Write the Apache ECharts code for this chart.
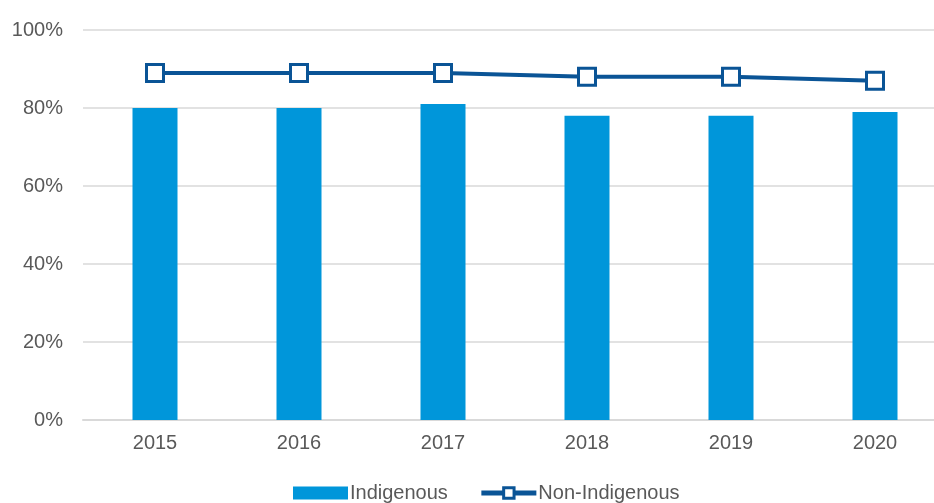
<!DOCTYPE html>
<html>
<head>
<meta charset="utf-8">
<script src="https://cdn.jsdelivr.net/npm/echarts@6/dist/echarts.min.js"></script>
<style>
  html, body { margin: 0; padding: 0; background: #fff; overflow: hidden; }
  /* the plot runs past the right edge of the window, as in the reference */
  #chart { width: 947px; height: 503px; }
</style>
</head>
<body>
<div id="chart"></div>
<script>
// data
const years = ['2015', '2016', '2017', '2018', '2019', '2020'];
const indigenous = [80, 80, 81, 78, 78, 79];
const nonIndigenous = [89, 89, 89, 88, 88, 87];

const chart = echarts.init(document.getElementById('chart'));

chart.setOption({
  animation: false,
  textStyle: { fontFamily: 'Liberation Sans, Arial, sans-serif' },
  grid: { left: 83, top: 30, right: 0, bottom: 83 },
  legend: {
    bottom: -5,
    left: 288,
    itemGap: 31,
    itemWidth: 55,
    itemHeight: 13,
    textStyle: { fontSize: 20, color: '#595959', padding: [0, 0, 0, -3] },
    data: [
      { name: 'Indigenous', icon: 'rect' },
      {
        name: 'Non-Indigenous',
        lineStyle: { width: 5, color: '#0a5496' },
        itemStyle: { color: '#ffffff', borderColor: '#0a5496', borderWidth: 3 }
      }
    ]
  },
  xAxis: {
    type: 'category',
    data: years,
    axisTick: { show: false },
    axisLine: { lineStyle: { color: '#d9d9d9', width: 2 } },
    axisLabel: { fontSize: 20, color: '#595959', margin: 13 }
  },
  yAxis: {
    type: 'value',
    min: 0,
    max: 100,
    interval: 20,
    axisLabel: { formatter: '{value}%', fontSize: 20, color: '#595959', margin: 20 },
    splitLine: { lineStyle: { color: '#d9d9d9', width: 1.5 } },
    axisLine: { show: false },
    axisTick: { show: false }
  },
  series: [
    {
      name: 'Indigenous',
      type: 'bar',
      data: indigenous,
      barWidth: 45,
      itemStyle: { color: '#0096da' }
    },
    {
      name: 'Non-Indigenous',
      type: 'line',
      data: nonIndigenous,
      symbol: 'rect',
      symbolSize: 17,
      lineStyle: { color: '#0a5496', width: 4 },
      itemStyle: { color: '#ffffff', borderColor: '#0a5496', borderWidth: 3 }
    }
  ]
});
</script>
</body>
</html>
